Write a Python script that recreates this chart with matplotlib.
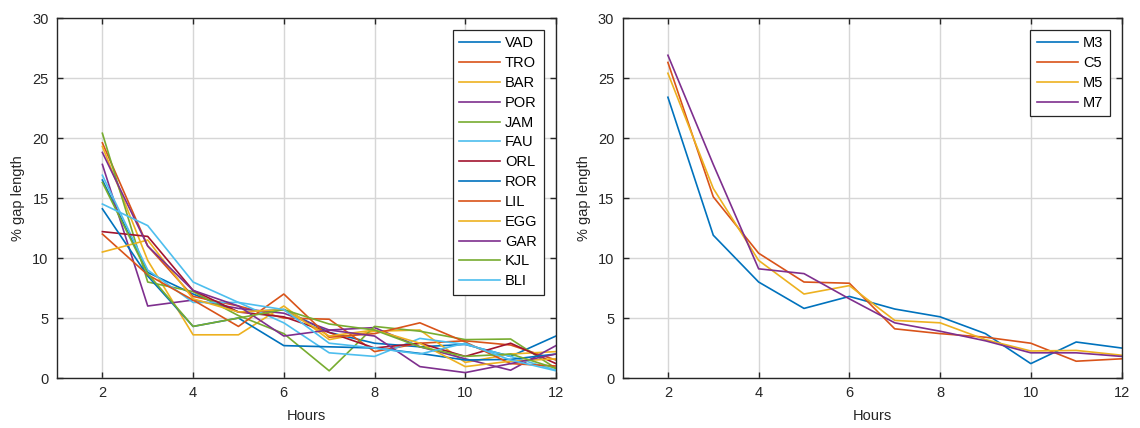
import matplotlib.pyplot as plt

plt.rcParams['font.family'] = ['Liberation Sans', 'DejaVu Sans']

hours = [2, 3, 4, 5, 6, 7, 8, 9, 10, 11, 12]

# left panel: one series per site
site_names = ['VAD', 'TRO', 'BAR', 'POR', 'JAM', 'FAU', 'ORL',
              'ROR', 'LIL', 'EGG', 'GAR', 'KJL', 'BLI']
vad = [16.5, 8.8, 7.0, 5.5, 5.7, 3.8, 2.9, 2.6, 2.8, 1.8, 3.5]
tro = [19.6, 11.0, 6.8, 6.0, 5.0, 4.9, 2.2, 2.9, 3.1, 2.75, 1.5]
bar = [19.3, 9.8, 3.6, 3.6, 6.0, 3.2, 3.9, 4.0, 1.3, 2.0, 2.2]
por = [17.8, 6.0, 6.5, 5.8, 5.4, 4.0, 4.2, 2.6, 1.6, 0.65, 2.7]
jam = [20.4, 8.0, 7.2, 5.2, 3.7, 0.6, 4.3, 3.9, 3.2, 3.25, 0.8]
fau = [16.9, 9.0, 6.3, 6.3, 4.6, 2.1, 1.8, 3.3, 2.8, 1.8, 0.65]
orl = [12.2, 11.8, 7.3, 5.5, 5.1, 3.8, 2.5, 2.9, 1.8, 2.9, 1.2]
ror = [14.1, 8.5, 4.3, 5.0, 2.7, 2.6, 2.5, 2.05, 1.5, 1.55, 2.0]
lil = [12.0, 8.6, 6.5, 4.3, 7.0, 3.4, 3.7, 4.6, 3.0, 1.2, 1.0]
egg = [10.5, 11.5, 6.6, 5.5, 5.7, 3.5, 4.0, 2.9, 0.95, 1.4, 1.6]
gar = [18.8, 11.0, 7.3, 6.0, 3.5, 4.0, 3.5, 0.95, 0.45, 1.2, 2.0]
kjl = [16.3, 8.7, 4.3, 5.0, 5.7, 4.5, 4.0, 2.6, 1.8, 2.0, 0.8]
bli = [14.5, 12.7, 8.0, 6.3, 5.7, 2.9, 2.5, 2.0, 2.9, 1.5, 0.6]
site_values = [vad, tro, bar, por, jam, fau, orl, ror, lil, egg, gar, kjl, bli]

# right panel: one series per model
model_names = ['M3', 'C5', 'M5', 'M7']
m3 = [23.4, 11.9, 8.0, 5.8, 6.8, 5.75, 5.1, 3.7, 1.2, 3.0, 2.5]
c5 = [26.3, 15.1, 10.4, 8.0, 7.9, 4.1, 3.7, 3.4, 2.9, 1.4, 1.6]
m5 = [25.4, 15.8, 9.8, 7.0, 7.7, 4.8, 4.6, 3.2, 2.25, 2.3, 1.9]
m7 = [26.9, 17.8, 9.1, 8.7, 6.6, 4.6, 3.9, 3.1, 2.1, 2.1, 1.8]
model_values = [m3, c5, m5, m7]

matlab_colors = ['#0072BD', '#D95319', '#EDB120', '#7E2F8E',
                 '#77AC30', '#4DBEEE', '#A2142F']
axis_gray = '#262626'


def style_axes(ax):
    ax.set_xlim(1, 12)
    ax.set_ylim(0, 30)
    ax.set_xticks([2, 4, 6, 8, 10, 12])
    ax.set_yticks([0, 5, 10, 15, 20, 25, 30])
    ax.grid(True, color='#d6d6d6', linewidth=1.0)
    ax.set_axisbelow(True)
    ax.tick_params(direction='in', top=True, right=True, length=4,
                   width=1.0, colors=axis_gray, labelsize=10.5, pad=6)
    for sp in ax.spines.values():
        sp.set_color(axis_gray)
        sp.set_linewidth(1.0)
    ax.set_xlabel('Hours', fontsize=10.5, color=axis_gray, labelpad=6)
    ax.set_ylabel('% gap length', fontsize=10.5, color=axis_gray, labelpad=5)


def add_legend(ax):
    leg = ax.legend(loc='upper right', fontsize=10.5, handlelength=2.8,
                    labelspacing=0.4, borderaxespad=0.8, fancybox=False,
                    framealpha=1, edgecolor=axis_gray, handletextpad=0.35,
                    borderpad=0.45)
    leg.get_frame().set_linewidth(0.9)


fig = plt.figure(figsize=(11.4, 4.28), dpi=100)
ax1 = fig.add_axes([0.05, 0.1168, 0.4377, 0.841])
ax2 = fig.add_axes([0.5461, 0.1168, 0.4377, 0.841])

for i, (name, vals) in enumerate(zip(site_names, site_values)):
    ax1.plot(hours, vals, color=matlab_colors[i % 7], linewidth=1.2, label=name)
style_axes(ax1)
add_legend(ax1)

for i, (name, vals) in enumerate(zip(model_names, model_values)):
    ax2.plot(hours, vals, color=matlab_colors[i % 7], linewidth=1.2, label=name)
style_axes(ax2)
add_legend(ax2)

fig.savefig('out.png', dpi=100)
